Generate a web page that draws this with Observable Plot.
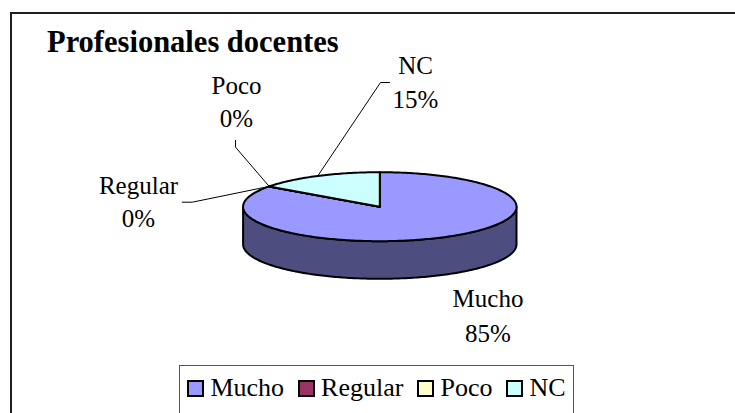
<!DOCTYPE html>
<html>
<head>
<meta charset="utf-8">
<script src="https://cdn.jsdelivr.net/npm/d3@7"></script>
<script src="https://cdn.jsdelivr.net/npm/@observablehq/plot@0.6"></script>
<style>
  html, body { margin: 0; padding: 0; background: #fff; }
  #wrap { position: relative; width: 735px; height: 413px; overflow: hidden;
          font-family: 'Liberation Serif', 'Times New Roman', Times, serif; color: #000; }
  #frame { position: absolute; left: 10px; top: 12px; width: 900px; height: 600px;
           border: 2px solid #1e1e1e; }
  #chart { position: absolute; left: 0; top: 0; }
  #chart svg text { font-family: 'Liberation Serif', 'Times New Roman', Times, serif !important; }
  #title { position: absolute; left: 47px; top: 26.5px; font-size: 30.5px; line-height: 30.5px;
           font-weight: bold; white-space: nowrap;
           font-family: 'Liberation Serif', 'Times New Roman', Times, serif; }
  #legend { position: absolute; left: 179px; top: 365px; width: 393px; height: 100px;
            border: 1px solid #555; background: #fff;
            font-family: 'Liberation Serif', 'Times New Roman', Times, serif; }
  #legend .items { display: flex; justify-content: center; align-items: center;
                   margin-top: 9px; height: 26px; font-size: 26px; line-height: 26px; }
  #legend .item { display: flex; align-items: center; margin: 0 7px; }
  #legend .sw { display: inline-block; width: 13px; height: 13px; border: 2px solid #000;
                margin-right: 6px; }
</style>
</head>
<body>
<div id="wrap">
  <div id="frame"></div>
  <div id="chart"></div>
  <div id="title">Profesionales docentes</div>
  <div id="legend"><div class="items"></div></div>
</div>
<script>
// ---- data ----
const categories = ["Mucho", "Regular", "Poco", "NC"];
const values = [85, 0, 0, 15];
const percentLabels = ["85%", "0%", "0%", "15%"];
const colors = ["#9999FF", "#993366", "#FFFFCC", "#CCFFFF"];

// ---- layout (pixels) ----
const pie = { cx: 379.3, cy: 206.2, rx: 136.7, ry: 34.5, depth: 37.6 };
const sideShade = 0.5;
const labelFont = 25;
const serif = "'Liberation Serif', 'Times New Roman', Times, serif";
const labelLayout = {
  Mucho:   { x: 487.5, b1: 306.7, b2: 341.0, leader: [] },
  Regular: { x: 138.0, b1: 193.3, b2: 226.7, leader: [[191.7, 201.7], [181.7, 201.7]] },
  Poco:    { x: 236.0, b1: 93.3,  b2: 126.7, leader: [[235.0, 146.7], [235.0, 140.0]] },
  NC:      { x: 415.0, b1: 73.0,  b2: 107.0, leader: [[380.0, 82.0], [389.0, 82.0]] }
};

// pixel -> pie units
const ux = px => (px - pie.cx) / pie.rx;
const uy = py => (pie.cy - py) / pie.ry;

// ---- geometry from the data ----
const total = d3.sum(values);
let acc = 0;
const slices = categories.map((key, i) => {
  const a0 = acc / total * 2 * Math.PI;
  acc += values[i];
  const a1 = acc / total * 2 * Math.PI;
  return { key, value: values[i], color: colors[i], label: percentLabels[i], a0, a1 };
});

const N = 360;
function arcPts(a0, a1) {
  const n = Math.max(1, Math.ceil((a1 - a0) / (2 * Math.PI) * N));
  return d3.range(n + 1).map(k => {
    const a = a0 + (a1 - a0) * k / n;
    return [Math.sin(a), Math.cos(a)];
  });
}

// top faces
const topRows = [];
for (const s of slices) {
  const pts = [[0, 0], ...arcPts(s.a0, s.a1), [0, 0]];
  for (const [x, y] of pts) topRows.push({ key: s.key, x, y });
}

// visible side walls (front half: angles PI/2 .. 3PI/2)
const dU = pie.depth / pie.ry;
const sideMarks = [];
for (const s of slices) {
  const s0 = Math.max(s.a0, Math.PI / 2), s1 = Math.min(s.a1, 3 * Math.PI / 2);
  if (s1 <= s0) continue;
  const top = arcPts(s0, s1);
  const bottom = top.slice().reverse().map(([x, y]) => [x, y - dU]);
  const poly = [...top, ...bottom, top[0]].map(([x, y]) => ({ key: s.key, x, y }));
  const c = d3.rgb(s.color);
  const dark = d3.rgb(c.r * sideShade, c.g * sideShade, c.b * sideShade).formatHex();
  sideMarks.push(Plot.line(poly, { x: "x", y: "y", fill: dark, stroke: "#000",
    strokeWidth: 2, strokeLinejoin: "round" }));
}

// leader lines: from the slice's mid-angle rim point to the label
const leaderRows = [];
for (const s of slices) {
  const L = labelLayout[s.key];
  if (!L.leader.length) continue;
  const am = (s.a0 + s.a1) / 2;
  leaderRows.push({ key: s.key, x: Math.sin(am), y: Math.cos(am) });
  for (const [px, py] of L.leader) leaderRows.push({ key: s.key, x: ux(px), y: uy(py) });
}

// labels
const textRows = [];
for (const s of slices) {
  const L = labelLayout[s.key];
  textRows.push({ x: ux(L.x), y: uy(L.b1 - 0.32 * labelFont), text: s.key });
  textRows.push({ x: ux(L.x), y: uy(L.b2 - 0.32 * labelFont), text: s.label });
}

const chart = Plot.plot({
  width: 735,
  height: 413,
  margin: 0,
  style: { background: "transparent", overflow: "visible", fontFamily: serif },
  x: { domain: [-1, 1], range: [pie.cx - pie.rx, pie.cx + pie.rx], axis: null },
  y: { domain: [-1, 1], range: [pie.cy + pie.ry, pie.cy - pie.ry], axis: null },
  color: { domain: categories, range: colors },
  marks: [
    ...sideMarks,
    Plot.line(topRows, { x: "x", y: "y", z: "key", fill: "key", stroke: "#000",
      strokeWidth: 2, strokeLinejoin: "round" }),
    Plot.line(leaderRows, { x: "x", y: "y", z: "key", stroke: "#000", strokeWidth: 1 }),
    Plot.text(textRows, { x: "x", y: "y", text: "text", fontSize: labelFont,
      fontFamily: serif, fill: "#000", textAnchor: "middle" })
  ]
});
document.getElementById("chart").appendChild(chart);

// legend from the same arrays
const items = d3.select("#legend .items");
categories.forEach((c, i) => {
  const it = items.append("div").attr("class", "item");
  it.append("span").attr("class", "sw").style("background", colors[i]);
  it.append("span").text(c);
});
</script>
</body>
</html>
